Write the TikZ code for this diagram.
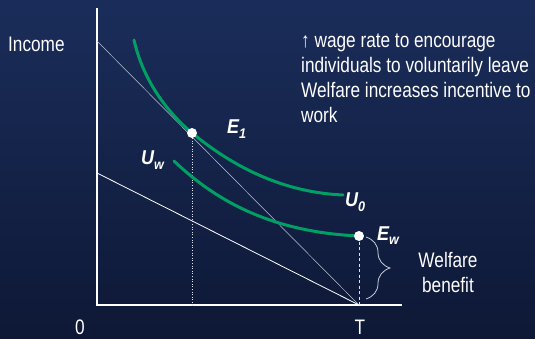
\documentclass[tikz,border=0pt]{standalone}
\usepackage{fontspec}
\setmainfont{Liberation Sans}[FakeStretch=0.82]
\newfontfamily\lblfont{Liberation Sans}[FakeStretch=0.9]
\usetikzlibrary{decorations.pathreplacing}
\definecolor{bgtop}{HTML}{1A2D5A}
\definecolor{bgmid}{HTML}{1F3A72}
\definecolor{bgbot}{HTML}{0E1836}
\definecolor{curvegreen}{HTML}{00A064}
\newcommand{\lblsub}[1]{\raisebox{-4.5pt}{\fontsize{14}{14}\selectfont #1}}
\begin{document}
\begin{tikzpicture}[x=1pt,y=-1pt,
  axisline/.style={white, line width=1.2pt},
  steepline/.style={white!70!bgmid, line width=0.5pt},
  budgetline/.style={white, line width=0.8pt},
  icurve/.style={draw=curvegreen, line width=3pt, line cap=round},
  ptdot/.style={circle, fill=white, inner sep=0pt, minimum size=10pt},
  lbl/.style={font=\fontsize{21}{25}\selectfont, text=white, inner sep=0pt},
  ptlbl/.style={font=\lblfont\fontsize{20}{22}\selectfont\bfseries\itshape, text=white, inner sep=0pt},
  guide/.style={white!85!bgmid, line width=0.6pt},
  bracestyle/.style={white!75!bgmid, line width=0.8pt, decorate, decoration={brace, amplitude=24pt}}]

\shade[top color=bgtop, middle color=bgmid, bottom color=bgbot] (0,0) rectangle (535,339);
\useasboundingbox (0,0) rectangle (535,339);

% coordinates
\coordinate (Oax) at (97,305);
\coordinate (ytop) at (97,8);
\coordinate (xend) at (402,305);
\coordinate (T) at (359,305);
\coordinate (A) at (97,41);
\coordinate (B) at (97,173);
\coordinate (U0s) at (134,40);
\coordinate (U0e) at (343,195);
\coordinate (Uws) at (174,161);
\coordinate (E1c) at (192,133);
\coordinate (Ewc) at (359,236);
\coordinate (bt) at (366,237);
\coordinate (bb) at (366,299);

% axes and budget lines
\draw[axisline] (ytop) -- (Oax) -- (xend);
\draw[steepline] (A) -- (T);
\draw[budgetline] (B) -- (T);

% guides
\draw[guide, dotted] (E1c) -- (E1c |- Oax);
\draw[guide, dash pattern=on 3pt off 2.5pt] (Ewc) -- (T);

% indifference curves
\draw[icurve] (U0s) .. controls (143,80) and (167,112) .. (E1c) .. controls (225,160) and (275,192) .. (U0e);
\draw[icurve] (Uws) .. controls (215,200) and (270,232) .. (Ewc);

% points
\node[ptdot] (E1) at (E1c) {};
\node[ptdot] (Ew) at (Ewc) {};

% brace
\draw[bracestyle] (bt) -- (bb);

% labels
\node[lbl, anchor=base west] (inc) at (8,52) {Income};
\node[lbl, anchor=base] (zero) at (80,334) {0};
\node[lbl, anchor=base] (tlab) at (360,334) {T};
\node[lbl, anchor=north west, align=left] (note) at (301,34) {↑ wage rate to encourage\\individuals to voluntarily leave\\Welfare increases incentive to\\work};
\node[lbl, anchor=north, align=center] (wb) at (448,252) {Welfare\\benefit};

\node[ptlbl, anchor=base west] (E1l) at (227,134) {E\lblsub{1}};
\node[ptlbl, anchor=base west] (Ewl) at (377,240) {E\lblsub{w}};
\node[ptlbl, anchor=base west] (U0l) at (345,207) {U\lblsub{0}};
\node[ptlbl, anchor=base west] (Uwl) at (141,165) {U\lblsub{w}};
\end{tikzpicture}
\end{document}
